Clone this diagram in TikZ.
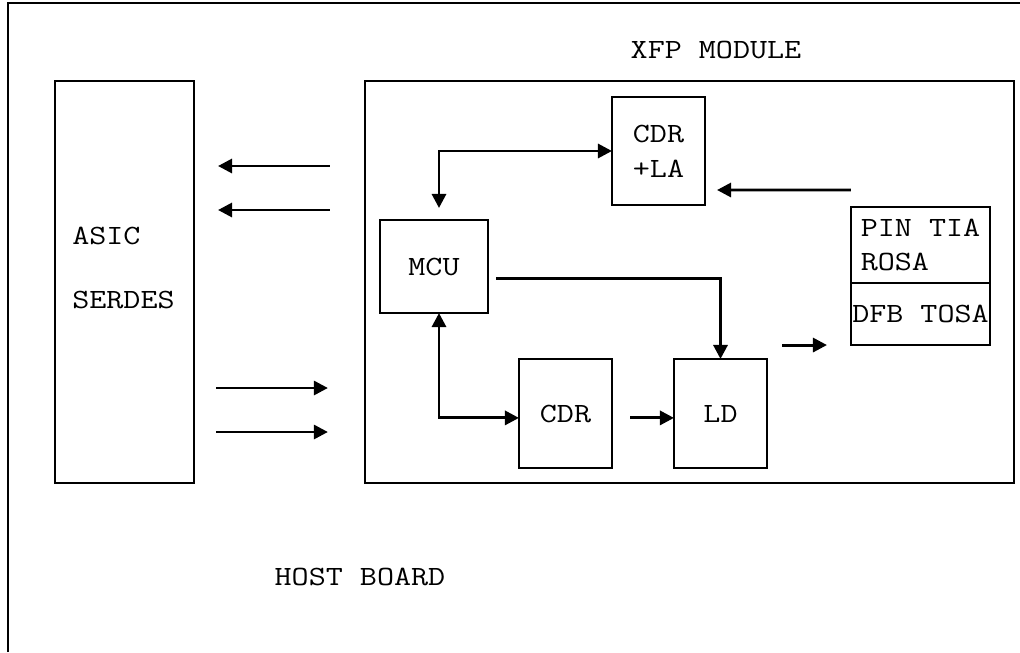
\documentclass[tikz,border=0pt]{standalone}
\usepackage{fontspec}
\setmonofont{Latin Modern Mono}[FakeStretch=1.19]
\usetikzlibrary{arrows.meta, positioning}

\begin{document}
\begin{tikzpicture}[
    x=0.025cm, y=-0.025cm,
    box/.style={draw, line width=1.2pt, inner sep=0pt, outer sep=0pt,
                align=center, font=\ttfamily\fontsize{19.8}{24.8}\selectfont},
    arr/.style={-{Triangle[length=0.35cm, width=0.35cm]}, line width=2.1pt},
    darr/.style={arr, {Triangle[length=0.35cm, width=0.35cm]}-{Triangle[length=0.35cm, width=0.35cm]}},
    lbl/.style={font=\ttfamily\fontsize{19.8}{24.8}\selectfont, inner sep=0pt}
]
\useasboundingbox (0,0) rectangle (1020,652);

% host board edge
\draw[line width=1.2pt] (8,652) |- (1020,3);

\node[box, minimum width=3.475cm, minimum height=10.05cm] (asic) at (124.5,282) {};
\node[lbl, anchor=west] (asicname) at (72,236) {ASIC};
\node[lbl, anchor=west] (serdes) at (72,300) {SERDES};

\node[box, minimum width=16.225cm, minimum height=10.05cm] (xfp) at (689.5,282) {};
\node[lbl] (xfpname) at (716,50) {XFP MODULE};
\node[lbl] (host) at (360,577) {HOST BOARD};

\node[box, minimum width=2.325cm, minimum height=2.7cm] (cdrla) at (658.5,151)
    {CDR\\+LA};
\node[box, minimum width=2.7cm, minimum height=2.325cm] (mcu) at (434,266.5) {MCU};
\node[box, minimum width=2.325cm, minimum height=2.725cm] (cdr) at (565.5,413.5) {CDR};
\node[box, minimum width=2.325cm, minimum height=2.725cm] (ld) at (720.5,413.5) {LD};

\node[box, align=left, minimum width=3.475cm, minimum height=1.9cm] (rosa) at (920.5,245)
    {PIN TIA\\ROSA};
\node[box, minimum width=3.475cm, minimum height=1.55cm, below=0pt of rosa] (tosa)
    {DFB TOSA};

% lanes between host and module
\foreach \yy in {166,210} {
    \path (0,\yy) coordinate (lane);
    \draw[arr, shorten <=0.875cm, shorten >=0.6cm] (xfp.west |- lane) -- (asic.east |- lane);
}
\foreach \yy in {388,432} {
    \path (0,\yy) coordinate (lane);
    \draw[arr, shorten <=0.55cm, shorten >=0.925cm] (asic.east |- lane) -- (xfp.west |- lane);
}

\draw[darr, shorten <=0.3cm] ([xshift=0.125cm]mcu.north) |- (cdrla.west);
\draw[arr, shorten >=0.3cm] ([yshift=0.425cm]rosa.north west) -- ([yshift=-0.975cm]cdrla.east);
\draw[arr, shorten <=0.2cm] ([yshift=-0.31cm]mcu.east) -| (ld.north);
\draw[darr] ([xshift=0.125cm]mcu.south) |- ([yshift=-0.11cm]cdr.west);
\draw[arr, shorten <=0.45cm] ([yshift=-0.11cm]cdr.east) -- ([yshift=-0.11cm]ld.west);
\draw[arr, shorten <=0.375cm, shorten >=0.6cm] (ld.east |- tosa.south west) -- (tosa.south west);

\end{tikzpicture}
\end{document}
